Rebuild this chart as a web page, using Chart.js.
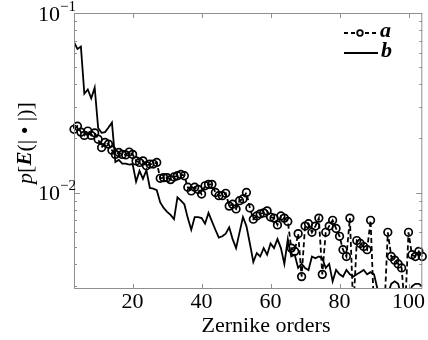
<!DOCTYPE html>
<html>
<head>
<meta charset="utf-8">
<script src="https://cdn.jsdelivr.net/npm/chart.js@4.4.0/dist/chart.umd.min.js"></script>
<style>
html, body { margin: 0; padding: 0; background: #fff; }
#chart { display: block; }
</style>
</head>
<body>
<canvas id="chart" width="428" height="340"></canvas>
<script>
// Zernike orders on the x axis
const orders = [3, 4, 5, 6, 7, 8, 9, 10, 11, 12, 13, 14, 15, 16, 17, 18, 19, 20,
    21, 22, 23, 24, 25, 26, 27, 28, 29, 30, 31, 32, 33, 34, 35, 36, 37, 38, 39, 40,
    41, 42, 43, 44, 45, 46, 47, 48, 49, 50, 51, 52, 53, 54, 55, 56, 57, 58, 59, 60,
    61, 62, 63, 64, 65, 66, 67, 68, 69, 70, 71, 72, 73, 74, 75, 76, 77, 78, 79, 80,
    81, 82, 83, 84, 85, 86, 87, 88, 89, 90, 91, 92, 93, 94, 95, 96, 97, 98, 99, 100,
    101, 102, 103, 104];

// series a (dashed, circles)
const seriesA = [0.0225, 0.0234, 0.0217, 0.0208, 0.0220, 0.0208, 0.0215, 0.0198, 0.0178, 0.0190,
    0.0186, 0.0172, 0.0163, 0.0167, 0.0163, 0.0162, 0.0168, 0.0163, 0.0150, 0.0147,
    0.0150, 0.0141, 0.0144, 0.0144, 0.0147, 0.0120, 0.0121, 0.0121, 0.0118, 0.0122,
    0.0124, 0.0126, 0.0124, 0.0107, 0.0102, 0.0107, 0.0104, 0.0098, 0.0109, 0.0111,
    0.0111, 0.0100, 0.0096, 0.0096, 0.0099, 0.0084, 0.0086, 0.0081, 0.0090, 0.0092,
    0.0100, 0.0082, 0.0071, 0.0074, 0.0076, 0.0077, 0.0079, 0.0073, 0.0072, 0.0066,
    0.0074, 0.0072, 0.0069, 0.0049, 0.0047, 0.0059, 0.0034, 0.0065, 0.0067, 0.0060,
    0.0065, 0.0072, 0.0035, 0.0060, 0.0065, 0.0070, 0.0063, 0.0057, 0.0048, 0.0044,
    0.0072, 0.0022, 0.0054, 0.0052, 0.0050, 0.0048, 0.0070, 0.0022, 0.0022, 0.0022,
    0.0022, 0.0060, 0.0044, 0.0042, 0.0040, 0.0038, 0.0022, 0.0060, 0.0045, 0.0044,
    0.0047, 0.0044];

// series b (solid)
const seriesB = [0.0687, 0.0630, 0.0650, 0.0355, 0.0375, 0.0335, 0.0384, 0.0229, 0.0215, 0.0217,
    0.0230, 0.0245, 0.0148, 0.0152, 0.0145, 0.0145, 0.0143, 0.0144, 0.0115, 0.0132,
    0.0119, 0.0133, 0.0106, 0.0105, 0.0103, 0.0088, 0.0082, 0.0078, 0.0075, 0.0071,
    0.0094, 0.0090, 0.0086, 0.0072, 0.0062, 0.0073, 0.0073, 0.0072, 0.0067, 0.0077,
    0.0069, 0.0062, 0.0056, 0.0057, 0.0059, 0.0064, 0.0055, 0.0049, 0.0060, 0.0073,
    0.0065, 0.0052, 0.0041, 0.0046, 0.0044, 0.0049, 0.0045, 0.0052, 0.0049, 0.0055,
    0.0049, 0.0040, 0.0055, 0.0044, 0.0045, 0.0038, 0.0040, 0.0038, 0.0037, 0.0044,
    0.0043, 0.0044, 0.0043, 0.0038, 0.0040, 0.0032, 0.0037, 0.0035, 0.0034, 0.0037,
    0.0035, 0.0034, 0.0035, 0.0036, 0.0037, 0.0035, 0.0036, 0.0035, 0.0029, 0.0025,
    0.0025, 0.0027, 0.0031, 0.0032, 0.0031, 0.0026, 0.0025, 0.0026, 0.0030, 0.0031,
    0.0031, 0.0030];

const xTicks = [20, 40, 60, 80, 100];
const yMajor = [0.01, 0.1];
const yMajorExp = ['\u22122', '\u22121'];

const SERIF = '"Liberation Serif", "DejaVu Serif", serif';

// frame, inward ticks, tick labels, axis titles and legend
const decorations = {
    id: 'decorations',
    afterDraw(chart) {
        const ctx = chart.ctx;
        const a = chart.chartArea;
        const x = chart.scales.x;
        const y = chart.scales.y;
        ctx.save();

        ctx.strokeStyle = '#8f8f8f';
        ctx.lineWidth = 1;
        ctx.strokeRect(a.left + 0.5, a.top + 0.5, a.right - a.left - 1, a.bottom - a.top - 1);

        ctx.beginPath();
        xTicks.forEach(v => {
            const px = Math.round(x.getPixelForValue(v)) + 0.5;
            ctx.moveTo(px, a.bottom); ctx.lineTo(px, a.bottom - 5);
            ctx.moveTo(px, a.top); ctx.lineTo(px, a.top + 5);
        });
        [0.001, 0.01, 0.1].forEach(dec => {
            for (let m = 1; m <= 9; m++) {
                const v = dec * m;
                if (v < y.min || v > y.max) continue;
                const py = Math.round(y.getPixelForValue(v)) + 0.5;
                const len = m === 1 ? 6 : 3;
                ctx.moveTo(a.left, py); ctx.lineTo(a.left + len, py);
                ctx.moveTo(a.right, py); ctx.lineTo(a.right - len, py);
            }
        });
        ctx.stroke();

        ctx.fillStyle = '#000';
        ctx.font = '22px ' + SERIF;
        ctx.textAlign = 'center';
        ctx.textBaseline = 'middle';
        xTicks.forEach(v => {
            ctx.fillText(String(v), x.getPixelForValue(v), a.bottom + 13);
        });

        yMajor.forEach((v, i) => {
            const py = y.getPixelForValue(v);
            ctx.font = '22px ' + SERIF;
            ctx.textAlign = 'right';
            ctx.textBaseline = 'middle';
            ctx.fillText('10', 60, py + 2);
            ctx.font = '15px ' + SERIF;
            ctx.textAlign = 'left';
            ctx.fillText(yMajorExp[i], 60, py - 6);
        });

        // x title
        ctx.font = '22px ' + SERIF;
        ctx.textAlign = 'center';
        ctx.textBaseline = 'middle';
        ctx.fillText('Zernike orders', 266, 326);

        // y title, rotated
        const parts = [
            ['p', 'italic 22px '],
            ['[', '22px '],
            ['E', 'italic bold 21px '],
            ['(|', '22px '],
            [' \u2022 ', '22px '],
            ['|)]', '22px ']
        ];
        let total = 0;
        parts.forEach(p => { ctx.font = p[1] + SERIF; total += ctx.measureText(p[0]).width; });
        ctx.translate(26, 143);
        ctx.rotate(-Math.PI / 2);
        ctx.textAlign = 'left';
        ctx.textBaseline = 'middle';
        let cx = -total / 2;
        parts.forEach(p => {
            ctx.font = p[1] + SERIF;
            ctx.fillText(p[0], cx, 0);
            cx += ctx.measureText(p[0]).width;
        });
        ctx.setTransform(1, 0, 0, 1, 0, 0);

        // legend
        ctx.strokeStyle = '#000';
        ctx.lineWidth = 1.8;
        ctx.setLineDash([4, 3]);
        ctx.beginPath();
        ctx.moveTo(344, 33); ctx.lineTo(376, 33);
        ctx.stroke();
        ctx.setLineDash([]);
        ctx.fillStyle = '#fff';
        ctx.beginPath();
        ctx.arc(360, 33, 2.8, 0, Math.PI * 2);
        ctx.fill();
        ctx.stroke();
        ctx.beginPath();
        ctx.moveTo(344, 53); ctx.lineTo(378, 53);
        ctx.stroke();
        ctx.fillStyle = '#000';
        ctx.font = 'italic bold 22px ' + SERIF;
        ctx.textAlign = 'left';
        ctx.textBaseline = 'middle';
        ctx.fillText('a', 380, 31);
        ctx.fillText('b', 381, 51);

        ctx.restore();
    }
};

const ctx = document.getElementById('chart').getContext('2d');
new Chart(ctx, {
    type: 'line',
    data: {
        labels: orders,
        datasets: [{
            label: 'a',
            data: seriesA,
            borderColor: '#000',
            borderWidth: 1.8,
            borderDash: [5, 3],
            pointRadius: 3.8,
            pointBorderWidth: 1.7,
            pointBorderColor: '#000',
            pointBackgroundColor: 'rgba(0,0,0,0)',
            tension: 0,
            clip: { left: 6, right: 6, top: 0, bottom: 0 }
        }, {
            label: 'b',
            data: seriesB,
            borderColor: '#000',
            borderWidth: 1.8,
            pointRadius: 0,
            tension: 0,
            clip: { left: 0, right: 0, top: 0, bottom: 0 }
        }]
    },
    options: {
        responsive: false,
        devicePixelRatio: 1,
        animation: false,
        layout: { padding: { top: 13, right: 1, left: 0, bottom: 0 } },
        scales: {
            x: {
                type: 'linear',
                min: 3,
                max: 104,
                grid: { display: false },
                border: { display: false },
                ticks: { display: false },
                afterFit: s => { s.height = 51; }
            },
            y: {
                type: 'logarithmic',
                min: 0.0029,
                max: 0.1,
                grid: { display: false },
                border: { display: false },
                ticks: { display: false },
                afterFit: s => { s.width = 74; }
            }
        },
        plugins: {
            legend: { display: false },
            tooltip: { enabled: false }
        }
    },
    plugins: [decorations]
});
</script>
</body>
</html>
